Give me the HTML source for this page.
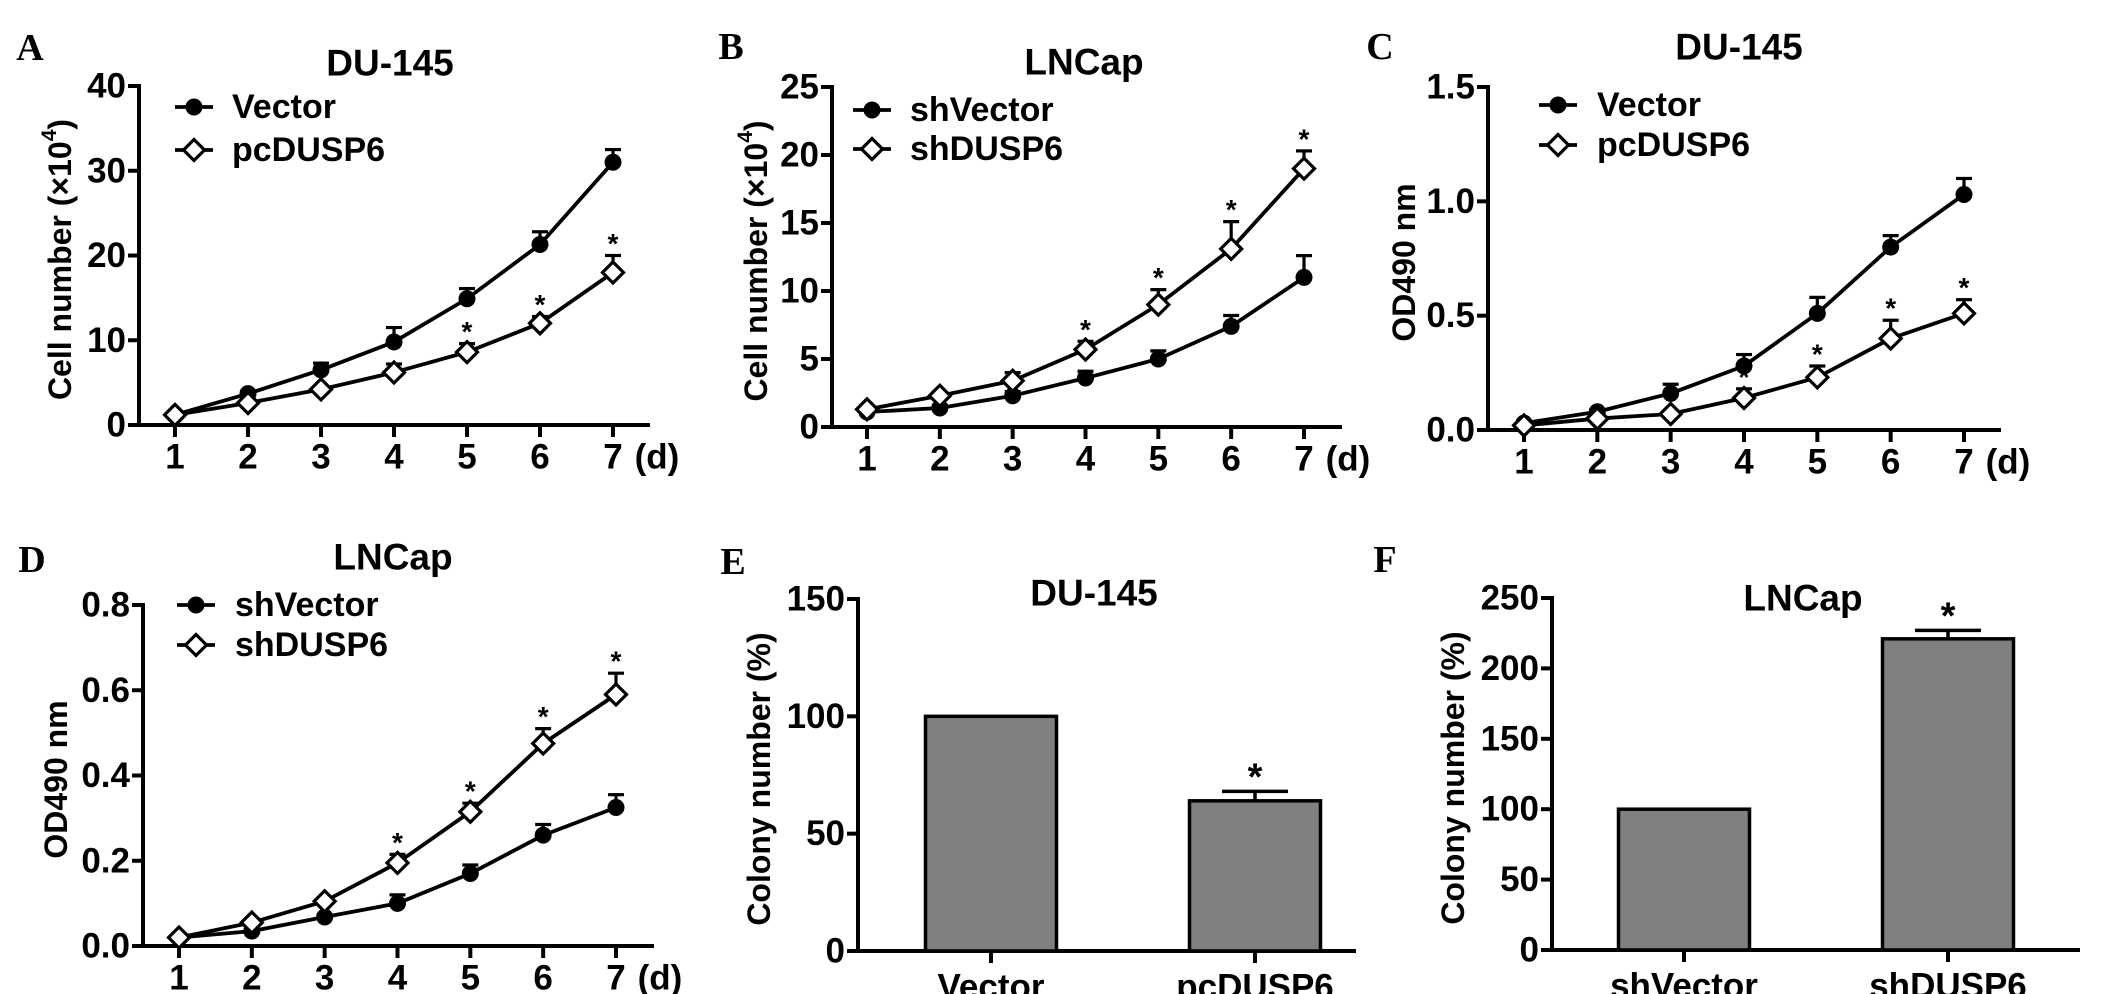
<!DOCTYPE html>
<html><head><meta charset="utf-8"><style>
html,body{margin:0;padding:0;background:#fff;}
svg{display:block;font-family:"Liberation Sans",Arial,sans-serif;font-weight:bold;}
</style></head><body>
<svg id="fig" width="2126" height="994" viewBox="0 0 2126 994" xmlns="http://www.w3.org/2000/svg"></svg>
<script>
// ---- data ----
const days = [1,2,3,4,5,6,7];
const aVector = [1.2,3.7,6.5,9.8,14.9,21.3,31.0];
const aVectorErr = [0.2,0.3,0.8,1.7,1.2,1.5,1.5];
const aPc = [1.2,2.6,4.2,6.2,8.6,12.0,18.0];
const aPcErr = [0.2,0.3,0.3,1.0,1.0,0.8,2.0];
const aStars = [5,6,7];
const aTicks = [0,10,20,30,40];

const bShVector = [1.1,1.4,2.3,3.6,5.0,7.4,11.0];
const bShVectorErr = [0.1,0.2,0.3,0.5,0.6,0.8,1.6];
const bShDusp = [1.3,2.3,3.4,5.7,9.0,13.1,19.0];
const bShDuspErr = [0.1,0.2,0.6,0.6,1.1,2.0,1.3];
const bStars = [4,5,6,7];
const bTicks = [0,5,10,15,20,25];

const cVector = [0.03,0.08,0.16,0.28,0.51,0.80,1.03];
const cVectorErr = [0.01,0.01,0.04,0.05,0.07,0.05,0.07];
const cPc = [0.02,0.05,0.07,0.14,0.23,0.40,0.51];
const cPcErr = [0.01,0.01,0.01,0.04,0.05,0.08,0.06];
const cStars = [4,5,6,7];
const cTicks = ["0.0","0.5","1.0","1.5"];

const dShVector = [0.02,0.035,0.068,0.10,0.17,0.26,0.325];
const dShVectorErr = [0.003,0.005,0.005,0.02,0.02,0.025,0.03];
const dShDusp = [0.02,0.055,0.105,0.195,0.315,0.475,0.59];
const dShDuspErr = [0.003,0.005,0.005,0.02,0.02,0.035,0.05];
const dStars = [4,5,6,7];
const dTicks = ["0.0","0.2","0.4","0.6","0.8"];

const eCats = ["Vector","pcDUSP6"];
const eVals = [100,64];
const eErr = [0,4];
const eStars = [false,true];
const eTicks = [0,50,100,150];

const fCats = ["shVector","shDUSP6"];
const fVals = [100,221];
const fErr = [0,6];
const fStars = [false,true];
const fTicks = [0,50,100,150,200,250];

// ---- helpers ----
const NS="http://www.w3.org/2000/svg";
const svg=document.getElementById('fig');
function mk(tag,attrs,parent,name){
  const e=document.createElementNS(NS,tag);
  for(const k in attrs)e.setAttribute(k,attrs[k]);
  (parent||svg).appendChild(e);
  
  
  return e;
}
function txt(s,x,y,size,parent,name,extra){
  const t=mk('text',Object.assign({x:x,y:y,'font-size':size,'text-anchor':'middle','dominant-baseline':'central',fill:'#000'},extra||{}),parent,name);
  t.textContent=s;return t;
}
function marker(kind,x,y,g,name){
  if(kind==='circle') return mk('circle',{cx:x,cy:y,r:8.5,fill:'#000'},g,name);
  const s=10.5;
  return mk('path',{d:`M${x} ${y-s}L${x+s} ${y}L${x} ${y+s}L${x-s} ${y}Z`,fill:'#fff',stroke:'#000','stroke-width':3.2},g,name);
}
function ytitle(s,x,y,g,sup){
  const t=mk('text',{x:x,y:y,'font-size':32,'text-anchor':'middle','dominant-baseline':'central',transform:`rotate(-90 ${x} ${y})`},g,'y-axis-title');
  t.textContent=s;
  if(sup){
    const sp=mk('tspan',{dy:-11,'font-size':21},t,'superscript');sp.textContent=sup;
    const c=mk('tspan',{dy:11},t,'close-paren');c.textContent=')';
  }
}

function lineChart(o){
  const g=mk('g',{},svg,o.name);
  const yMax=o.yMax;
  const sy=v=>o.y0-(v/yMax)*(o.y0-o.yTop);
  const sx=d=>o.x1+(d-1)*(o.x7-o.x1)/6;
  txt(o.letter,o.letterX,o.letterY,38,g,'panel-letter',{'font-family':'Liberation Serif, serif'});
  txt(o.title,o.titleX,o.titleY,37,g,'chart-title');
  mk('line',{x1:o.ax,y1:o.yTop-2,x2:o.ax,y2:o.y0+2,stroke:'#000','stroke-width':4},g,'y-axis-line');
  mk('line',{x1:o.ax-2,y1:o.y0,x2:o.axEnd,y2:o.y0,stroke:'#000','stroke-width':4},g,'x-axis-line');
  o.ticks.forEach(t=>{
    const v=parseFloat(t),y=sy(v);
    mk('line',{x1:o.ax-11,y1:y,x2:o.ax,y2:y,stroke:'#000','stroke-width':4},g,'y-tick');
    txt(String(t),o.ax-13,y,35,g,'y-tick-label',{'text-anchor':'end'});
  });
  days.forEach(d=>{
    mk('line',{x1:sx(d),y1:o.y0,x2:sx(d),y2:o.y0+12,stroke:'#000','stroke-width':4},g,'x-tick');
    txt(String(d),sx(d),o.y0+32,35,g,'x-tick-label');
  });
  txt('(d)',o.x7+44,o.y0+32,35,g,'x-unit-label');
  ytitle(o.ytitle,o.ytX,(o.yTop+o.y0)/2+4,g,o.sup);
  o.series.forEach(s=>{
    const pts=days.map((d,i)=>sx(d)+','+sy(s.vals[i])).join(' ');
    mk('polyline',{points:pts,fill:'none',stroke:'#000','stroke-width':3.8},g,'series-line');
    days.forEach((d,i)=>{
      const x=sx(d),y=sy(s.vals[i]),ye=sy(s.vals[i]+s.err[i]);
      mk('line',{x1:x,y1:y,x2:x,y2:ye,stroke:'#000','stroke-width':3.2},g,'error-bar');
      mk('line',{x1:x-8,y1:ye,x2:x+8,y2:ye,stroke:'#000','stroke-width':3.2},g,'error-cap');
    });
  });
  o.series.forEach(s=>{
    days.forEach((d,i)=>marker(s.kind,sx(d),sy(s.vals[i]),g,'data-point'));
    if(s.stars) s.stars.forEach(d=>{
      const i=d-1; txt('*',sx(d),sy(s.vals[i]+s.err[i])-12,28,g,'significance-star');
    });
  });
  o.series.forEach((s,k)=>{
    const y=o.legY[k];
    mk('line',{x1:o.legX-19,y1:y,x2:o.legX+19,y2:y,stroke:'#000','stroke-width':3.8},g,'legend-line');
    marker(s.kind,o.legX,y,g,'legend-marker');
    txt(s.label,o.legTextX,y,34,g,'legend-label',{'text-anchor':'start'});
  });
}

function barChart(o){
  const g=mk('g',{},svg,o.name);
  const sy=v=>o.y0-(v/o.yMax)*(o.y0-o.yTop);
  txt(o.letter,o.letterX,o.letterY,38,g,'panel-letter',{'font-family':'Liberation Serif, serif'});
  txt(o.title,o.titleX,o.titleY,37,g,'chart-title');
  mk('line',{x1:o.ax,y1:o.yTop-2,x2:o.ax,y2:o.y0+2,stroke:'#000','stroke-width':4},g,'y-axis-line');
  mk('line',{x1:o.ax-2,y1:o.y0,x2:o.axEnd,y2:o.y0,stroke:'#000','stroke-width':4},g,'x-axis-line');
  o.ticks.forEach(t=>{
    const y=sy(t);
    mk('line',{x1:o.ax-11,y1:y,x2:o.ax,y2:y,stroke:'#000','stroke-width':4},g,'y-tick');
    txt(String(t),o.ax-13,y,35,g,'y-tick-label',{'text-anchor':'end'});
  });
  ytitle(o.ytitle,o.ytX,(o.yTop+o.y0)/2+4,g);
  o.cats.forEach((c,i)=>{
    const cx=o.cx[i],w=o.bw,v=o.vals[i];
    mk('rect',{x:cx-w/2,y:sy(v),width:w,height:o.y0-sy(v),fill:'#808080',stroke:'#000','stroke-width':3.5},g,'bar-'+c.toLowerCase());
    mk('line',{x1:cx,y1:o.y0,x2:cx,y2:o.y0+12,stroke:'#000','stroke-width':4},g,'x-tick');
    txt(c,cx,o.y0+36,35,g,'x-tick-label');
    if(o.err[i]>0){
      const ye=sy(v+o.err[i]);
      mk('line',{x1:cx,y1:sy(v),x2:cx,y2:ye,stroke:'#000','stroke-width':3.5},g,'error-bar');
      mk('line',{x1:cx-33,y1:ye,x2:cx+33,y2:ye,stroke:'#000','stroke-width':3.5},g,'error-cap');
    }
    if(o.stars[i]) txt('*',cx,sy(v+o.err[i])-14,38,g,'significance-star');
  });
}

lineChart({name:'panel-a',letter:'A',letterX:30,letterY:48,title:'DU-145',titleX:390,titleY:63,
  ax:139,axEnd:650,y0:425,yTop:86,yMax:40,x1:175,x7:613,ticks:aTicks,ytitle:'Cell number (×10',sup:'4',ytX:60,
  legX:194,legTextX:232,legY:[107,150],
  series:[{label:'Vector',kind:'circle',vals:aVector,err:aVectorErr},
          {label:'pcDUSP6',kind:'diamond',vals:aPc,err:aPcErr,stars:aStars}]});
lineChart({name:'panel-b',letter:'B',letterX:731,letterY:47,title:'LNCap',titleX:1084,titleY:62,
  ax:832,axEnd:1342,y0:427,yTop:87,yMax:25,x1:867,x7:1304,ticks:bTicks,ytitle:'Cell number (×10',sup:'4',ytX:756,
  legX:872,legTextX:910,legY:[110,149],
  series:[{label:'shVector',kind:'circle',vals:bShVector,err:bShVectorErr},
          {label:'shDUSP6',kind:'diamond',vals:bShDusp,err:bShDuspErr,stars:bStars}]});
lineChart({name:'panel-c',letter:'C',letterX:1380,letterY:47,title:'DU-145',titleX:1739,titleY:47,
  ax:1488,axEnd:2001,y0:430,yTop:87,yMax:1.5,x1:1524,x7:1964,ticks:cTicks,ytitle:'OD490 nm',ytX:1404,
  legX:1558,legTextX:1597,legY:[105,145],
  series:[{label:'Vector',kind:'circle',vals:cVector,err:cVectorErr},
          {label:'pcDUSP6',kind:'diamond',vals:cPc,err:cPcErr,stars:cStars}]});
lineChart({name:'panel-d',letter:'D',letterX:32,letterY:560,title:'LNCap',titleX:393,titleY:557,
  ax:143,axEnd:654,y0:946,yTop:605,yMax:0.8,x1:179,x7:616,ticks:dTicks,ytitle:'OD490 nm',ytX:56,
  legX:196,legTextX:235,legY:[605,645],
  series:[{label:'shVector',kind:'circle',vals:dShVector,err:dShVectorErr},
          {label:'shDUSP6',kind:'diamond',vals:dShDusp,err:dShDuspErr,stars:dStars}]});
barChart({name:'panel-e',letter:'E',letterX:733,letterY:562,title:'DU-145',titleX:1094,titleY:593,
  ax:858,axEnd:1356,y0:951,yTop:599,yMax:150,ticks:eTicks,ytitle:'Colony number (%)',ytX:759,
  cats:eCats,vals:eVals,err:eErr,stars:eStars,cx:[991,1255],bw:131});
barChart({name:'panel-f',letter:'F',letterX:1385,letterY:560,title:'LNCap',titleX:1803,titleY:598,
  ax:1552,axEnd:2080,y0:950,yTop:598,yMax:250,ticks:fTicks,ytitle:'Colony number (%)',ytX:1453,
  cats:fCats,vals:fVals,err:fErr,stars:fStars,cx:[1684,1948],bw:131});
</script>
</body></html>
